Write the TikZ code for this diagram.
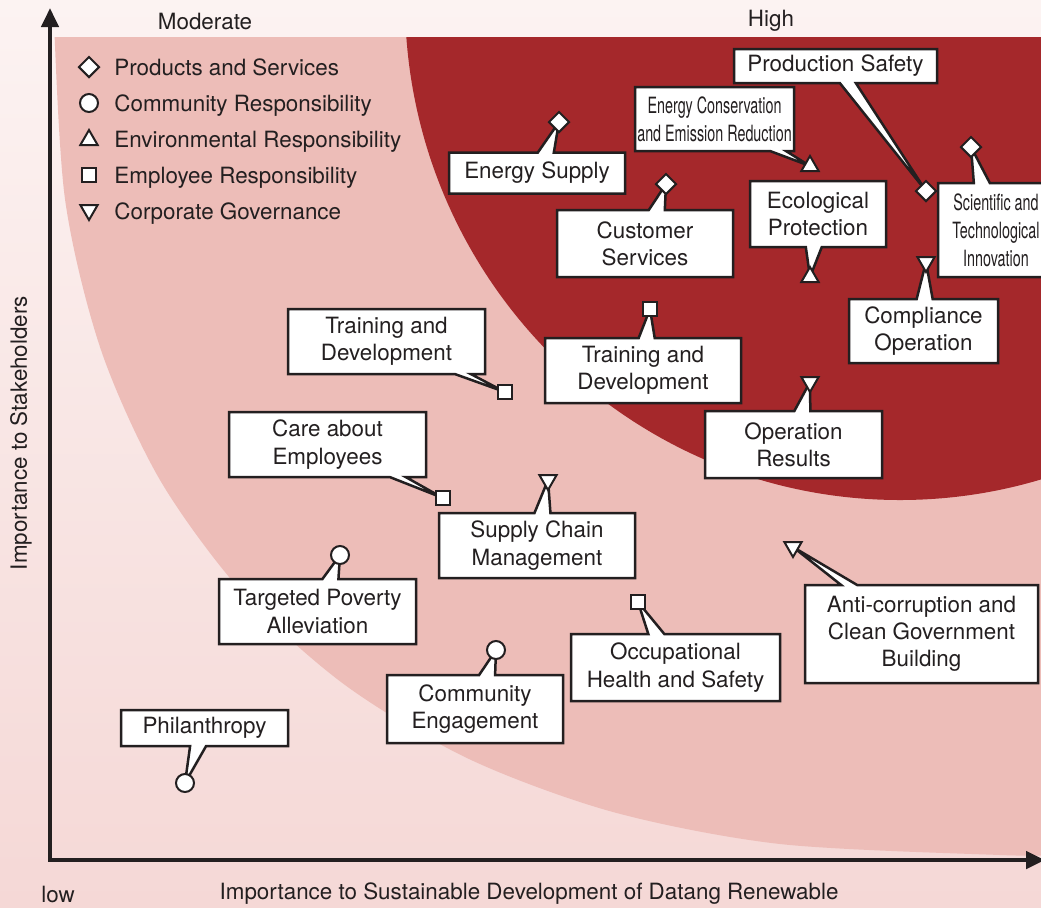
\documentclass[tikz,border=0pt]{standalone}
\usepackage{fontspec}
\setmainfont{TeX Gyre Heros}
\newfontfamily\narrowfont[FakeStretch=0.64]{TeX Gyre Heros}
\usetikzlibrary{shapes.geometric,shapes.callouts,arrows.meta}
\definecolor{inkgray}{HTML}{231F20}
\definecolor{bgtop}{HTML}{FCF3F2}
\definecolor{bgbottom}{HTML}{F5D8D6}
\definecolor{midpink}{HTML}{EDBDB8}
\definecolor{deepred}{HTML}{A5282B}
\newcommand{\boxfont}{\fontsize{11.2}{13.6}\selectfont}
\newcommand{\narrowboxfont}{\narrowfont\fontsize{11.2}{13.9}\selectfont}
\newcommand{\callbox}[7][]{\node[callbox,#1,minimum width=#5*0.5pt,minimum height=#6*0.5pt,callout absolute pointer={(#7)}] (#2) at (#3) {#4};}
\tikzset{
  callbox/.style={rectangle callout,draw=inkgray,fill=white,line width=1.25pt,inner sep=0pt,
    align=center,callout pointer width=8pt,font=\boxfont,text=inkgray},
  narrowbox/.style={font=\narrowboxfont},
  markbase/.style={draw=inkgray,fill=white,line width=1pt,inner sep=0pt},
  prodmark/.style={markbase,diamond,minimum width=10.5pt,minimum height=10.5pt},
  commmark/.style={markbase,circle,minimum size=9pt},
  envmark/.style={markbase,regular polygon,regular polygon sides=3,minimum size=10pt},
  govmark/.style={envmark,shape border rotate=180},
  empmark/.style={markbase,rectangle,minimum size=7pt},
  legtext/.style={anchor=base west,inner sep=0pt,font=\boxfont,text=inkgray},
  axistext/.style={inner sep=0pt,font=\boxfont,text=inkgray},
  axisline/.style={draw=inkgray,line width=2.3pt,-{Triangle[length=9.5pt,width=8.5pt]}}
}

\begin{document}
\begin{tikzpicture}[x=0.5pt,y=-0.5pt]
\useasboundingbox (0,0) rectangle (1041,907);
% background
\shade[top color=bgtop,bottom color=bgbottom] (0,0) rectangle (1041,907);
% zones
\begin{scope}
\clip (52,37) rectangle (1041,858);
\fill[midpink] plot[smooth] coordinates {(53,-20) (53,0) (65,199) (101,350) (160,480) (242,592)
  (345,685) (469,759) (613,812) (780,844) (1000,855) (1060,855)} -- (1060,-20) -- cycle;
\fill[deepred] (900,0) ellipse [x radius=247.5pt,y radius=250pt];
\end{scope}
% axes
\coordinate (origin) at (50,860);
\coordinate (ytop) at (50,8);
\coordinate (xend) at (1045,860);
\draw[axisline] (origin) -- (ytop);
\draw[axisline] (48,860) -- (xend);
\node[axistext] (moderate) at (205,21) {Moderate};
\node[axistext] (high) at (771,21) {High};
\node[axistext] (low) at (58,894) {low};
\node[axistext] (xtitle) at (529,894) {Importance to Sustainable Development of Datang Renewable};
\node[axistext,rotate=90] (ytitle) at (21,433) {Importance to Stakeholders};
% legend
\node[prodmark] (legprod) at (89,67) {};
\node[commmark] (legcomm) at (89,103) {};
\node[envmark] (legenv) at (89,140) {};
\node[empmark] (legemp) at (89,175) {};
\node[govmark] (leggov) at (89,210) {};
\node[legtext] (legprodtxt) at (114,75) {Products and Services};
\node[legtext] (legcommtxt) at (114,111) {Community Responsibility};
\node[legtext] (legenvtxt) at (114,147) {Environmental Responsibility};
\node[legtext] (legemptxt) at (114,183) {Employee Responsibility};
\node[legtext] (leggovtxt) at (114,219) {Corporate Governance};
% topic points
\coordinate (ps) at (926,191);
\coordinate (ec) at (810,166);
\coordinate (ep) at (810,277);
\coordinate (st) at (971,147);
\coordinate (co) at (926,262);
\coordinate (cs) at (666,184);
\coordinate (es) at (559,122);
\coordinate (tdb) at (650,309);
\coordinate (tda) at (505,392);
\coordinate (or) at (810,382);
\coordinate (ce) at (443,498);
\coordinate (sc) at (548,480);
\coordinate (tp) at (340,555);
\coordinate (ac) at (793,547);
\coordinate (oh) at (638,602);
\coordinate (cm) at (496,650);
\coordinate (ph) at (185,783);
% callouts
\callbox{prodsafety}{835.5,66}{Production Safety}{203}{34}{ps}
\callbox[narrowbox]{energycons}{714.5,119}{Energy Conservation\\and Emission Reduction}{159}{64}{ec}
\callbox{ecoprot}{818,214}{Ecological\\Protection}{136}{66}{ep}
\callbox[narrowbox]{scitech}{996,230}{Scientific and\\Technological\\Innovation}{116}{94}{st}
\callbox{compliance}{923.5,331}{Compliance\\Operation}{149}{64}{co}
\callbox{customer}{645,243.5}{Customer\\Services}{176}{67}{cs}
\callbox{energysupply}{537,173}{Energy Supply}{176}{41}{es}
\callbox{traindevB}{643,370.5}{Training and\\Development}{196}{65}{tdb}
\callbox{traindevA}{386.5,341.5}{Training and\\Development}{197}{65}{tda}
\callbox{opresults}{793.5,444.5}{Operation\\Results}{177}{67}{or}
\callbox{careemp}{327.5,444.5}{Care about\\Employees}{197}{65}{ce}
\callbox{supplychain}{537,545.5}{Supply Chain\\Management}{196}{65}{sc}
\callbox{poverty}{317.5,611.5}{Targeted Poverty\\Alleviation}{197}{65}{tp}
\callbox{anticorr}{921.5,634}{Anti-corruption and\\Clean Government\\Building}{233}{98}{ac}
\callbox{occhealth}{675.5,667.5}{Occupational\\Health and Safety}{209}{67}{oh}
\callbox{commeng}{475,709}{Community\\Engagement}{176}{68}{cm}
\callbox{philanthropy}{204.5,728}{Philanthropy}{167}{36}{ph}
% markers
\node[prodmark] (psmark) at (ps) {};
\node[envmark] (ecmark) at (ec) {};
\node[envmark] (epmark) at (ep) {};
\node[prodmark] (stmark) at (st) {};
\node[govmark] (comark) at (co) {};
\node[prodmark] (csmark) at (cs) {};
\node[prodmark] (esmark) at (es) {};
\node[empmark] (tdbmark) at (tdb) {};
\node[empmark] (tdamark) at (tda) {};
\node[govmark] (ormark) at (or) {};
\node[empmark] (cemark) at (ce) {};
\node[govmark] (scmark) at (sc) {};
\node[commmark] (tpmark) at (tp) {};
\node[govmark] (acmark) at (ac) {};
\node[empmark] (ohmark) at (oh) {};
\node[commmark] (cmmark) at (cm) {};
\node[commmark] (phmark) at (ph) {};
\end{tikzpicture}
\end{document}
